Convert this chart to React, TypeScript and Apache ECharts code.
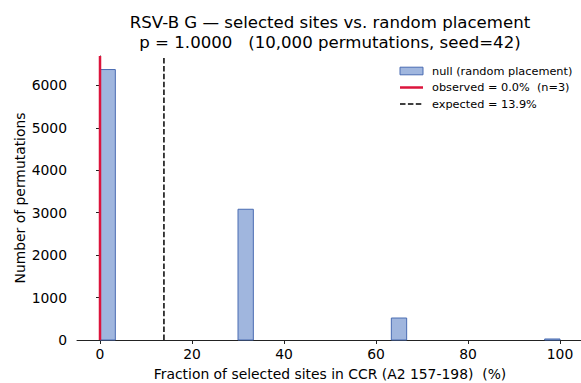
import React, { useEffect, useRef } from "react";
import * as echarts from "echarts";

const binStart = [0, 30, 63.333, 96.667];
const binEnd = [3.333, 33.333, 66.667, 100];
const binCounts = [6376, 3082, 518, 24];
const observedPct = 0.0;
const expectedPct = 13.9;
const yMax = 6695;
const xTicks = [0, 20, 40, 60, 80, 100];
const yTicks = [0, 1000, 2000, 3000, 4000, 5000, 6000];

const titleText = "RSV-B G \u2014 selected sites vs. random placement\np = 1.0000   (10,000 permutations, seed=42)";
const nullName = "null (random placement)";
const obsName = "observed = 0.0%  (n=3)";
const expName = "expected = 13.9%";

const FONT = '"DejaVu Sans", sans-serif';
const FILL = "#a0b6de";
const EDGE = "#4a6cb2";
const RED = "#dc143c";

const LX = 400;
const LTEXT = 432;
const LROWS = [71, 87.5, 104];

export default function App() {
  const ref = useRef<HTMLDivElement>(null);
  useEffect(() => {
    if (!ref.current) return;
    const chart = echarts.init(ref.current, null, { renderer: "svg" });
    const histData = binStart.map((s, i) => [s, binEnd[i], binCounts[i]]);
    const legendNames = [nullName, obsName, expName];
    chart.setOption({
      animation: false,
      textStyle: { fontFamily: FONT, color: "#000" },
      graphic: [
        {
          type: "text",
          x: 330,
          y: 12,
          style: {
            text: titleText,
            font: `16.6px ${FONT}`,
            fill: "#000",
            textAlign: "center",
            textVerticalAlign: "top",
            lineHeight: 20,
          },
        },
        {
          type: "rect",
          shape: { x: LX, y: LROWS[0] - 3.8, width: 23, height: 7.6 },
          style: { fill: FILL, stroke: EDGE, lineWidth: 1 },
          z: 10,
        },
        {
          type: "line",
          shape: { x1: LX, y1: LROWS[1], x2: LX + 23, y2: LROWS[1] },
          style: { stroke: RED, lineWidth: 2.5 },
          z: 10,
        },
        {
          type: "line",
          shape: { x1: LX, y1: LROWS[2], x2: LX + 23, y2: LROWS[2] },
          style: { stroke: "#000", lineWidth: 1.5, lineDash: [5.5, 2.4] },
          z: 10,
        },
        ...legendNames.map((n, i) => ({
          type: "text",
          x: LTEXT,
          y: LROWS[i],
          z: 10,
          style: {
            text: n,
            font: `11.3px ${FONT}`,
            fill: "#000",
            textAlign: "left",
            textVerticalAlign: "middle",
          },
        })),
      ],
      grid: { left: 77, top: 56, width: 506, height: 284, outerBoundsMode: "none", containLabel: false },
      xAxis: {
        type: "value",
        min: -5,
        max: 105,
        name: "Fraction of selected sites in CCR (A2 157-198)  (%)",
        nameLocation: "middle",
        nameGap: 27,
        nameMoveOverlap: false,
        nameTextStyle: { fontFamily: FONT, fontSize: 13.9, color: "#000" },
        axisLine: { show: true, onZero: false, lineStyle: { color: "#222", width: 1 } },
        axisTick: { show: true, length: 4, customValues: xTicks, lineStyle: { color: "#222" } },
        axisLabel: { customValues: xTicks, margin: 7, fontFamily: FONT, fontSize: 13.9, color: "#000" },
        splitLine: { show: false },
      },
      yAxis: {
        type: "value",
        min: 0,
        max: yMax,
        name: "Number of permutations",
        nameLocation: "middle",
        nameGap: 50,
        nameMoveOverlap: false,
        nameTextStyle: { fontFamily: FONT, fontSize: 13.9, color: "#000" },
        axisLine: { show: true, lineStyle: { color: "#222", width: 1 } },
        axisTick: { show: true, length: 4, customValues: yTicks, lineStyle: { color: "#222" } },
        axisLabel: {
          customValues: yTicks,
          margin: 10,
          fontFamily: FONT,
          fontSize: 13.9,
          color: "#000",
          formatter: (v: number) => String(v),
        },
        splitLine: { show: false },
      },
      series: [
        {
          name: nullName,
          type: "custom",
          itemStyle: { color: FILL, borderColor: EDGE, borderWidth: 1 },
          encode: { x: [0, 1], y: 2 },
          data: histData,
          renderItem: (params: any, api: any) => {
            const x0 = api.value(0);
            const x1 = api.value(1);
            const y = api.value(2);
            const p0 = api.coord([x0, y]);
            const p1 = api.coord([x1, 0]);
            return {
              type: "rect",
              shape: { x: p0[0], y: p0[1], width: p1[0] - p0[0], height: p1[1] - p0[1] },
              style: { fill: FILL, stroke: EDGE, lineWidth: 1 },
            };
          },
          z: 2,
        },
        {
          name: obsName,
          type: "line",
          symbol: "none",
          showSymbol: false,
          color: RED,
          lineStyle: { color: RED, width: 2.5 },
          data: [
            [observedPct, 0],
            [observedPct, yMax],
          ],
          z: 4,
        },
        {
          name: expName,
          type: "line",
          symbol: "none",
          showSymbol: false,
          color: "#000",
          lineStyle: { color: "#000", width: 1.5, type: [5.5, 2.4] },
          data: [
            [expectedPct, 0],
            [expectedPct, yMax],
          ],
          z: 3,
        },
      ],
    });
    return () => chart.dispose();
  }, []);
  return (
    <div
      ref={ref}
      style={{ position: "absolute", left: 0, top: 0, width: 581, height: 383, background: "#fff" }}
    />
  );
}
